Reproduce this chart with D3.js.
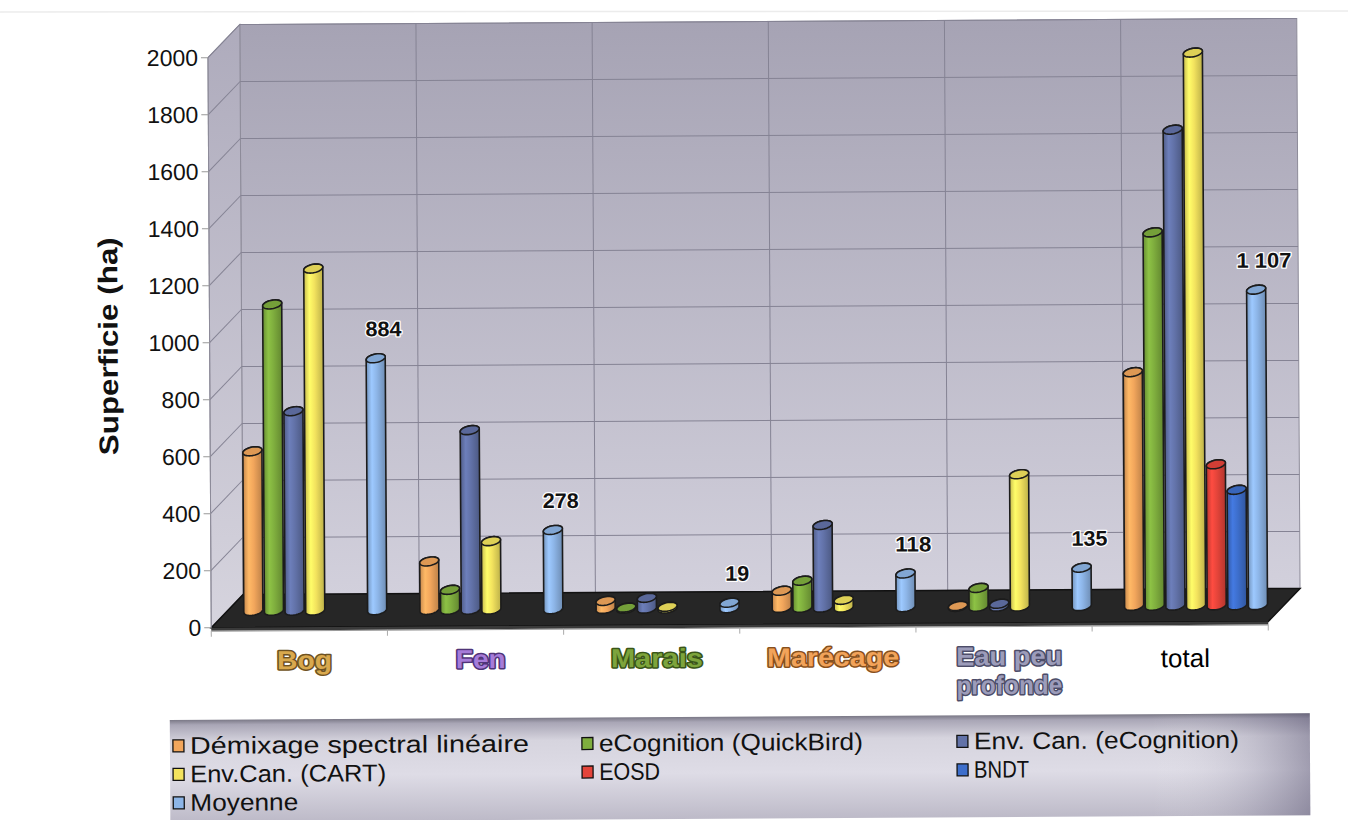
<!DOCTYPE html>
<html><head><meta charset="utf-8">
<script src="https://cdn.jsdelivr.net/npm/d3@7"></script>
<style>body{margin:0;background:#fff;} svg{display:block}</style>
</head><body><svg id="c" width="1348" height="820"></svg>
<script>
// ---------- data ----------
const categories = ["Bog","Fen","Marais","Marécage","Eau peu profonde","total"];
const categoryLines = [["Bog"],["Fen"],["Marais"],["Marécage"],["Eau peu","profonde"],["total"]];
const series = ["Démixage spectral linéaire","eCognition (QuickBird)","Env. Can. (eCognition)","Env.Can. (CART)","EOSD","BNDT","Moyenne"];
const demixage     = [560, 170, 28, 60, 3, 820];
const ecognitionQB = [1075, 70, 4, 95, 66, 1310];
const envCanECog   = [700, 630, 38, 290, 10, 1670];
const envCanCART   = [1200, 240, 6, 27, 464, 1940];
const eosd         = [null, null, null, null, null, 495];
const bndt         = [null, null, null, null, null, 405];
const moyenne      = [884, 278, 19, 118, 135, 1107];
const moyenneLabels = ["884","278","19","118","135","1 107"];
const yTicks = [0,200,400,600,800,1000,1200,1400,1600,1800,2000];
const seriesValues = [demixage, ecognitionQB, envCanECog, envCanCART, eosd, bndt, moyenne];
const seriesColors = ["#F2A65C","#7FAE3E","#6272A8","#F3E35E","#E4443A","#3D6ECB","#8DB5E7"];
const catColors = [["#D9A94E","#6e5222"],["#A67CD9","#4f3478"],["#7DA43C","#3a5518"],["#F2A35A","#86501e"],["#9C9CBA","#4c4c68"],["#000","none"]];

// ---------- layout ----------
const FX0 = 210, FX1 = 1267, FZ = 625, H = 570, DX = 32, DY = -33;
const W = FX1 - FX0;
const y = d3.scaleLinear().domain([0, 2000]).range([0, H]);
const x0 = d3.scaleBand().domain(categories).range([0, W]);
const bw = x0.bandwidth();
const x1 = d3.scaleBand().domain(series).range([bw * 0.09, bw * 0.91]);
const P = (px, v, t) => [FX0 + px + t * DX, FZ - y(v) + t * DY];

const svg = d3.select("#c");
const defs = svg.append("defs");

// wall gradients
const wg = defs.append("linearGradient").attr("id","wall").attr("x1",0).attr("y1",0).attr("x2",0).attr("y2",1);
wg.append("stop").attr("offset",0).attr("stop-color","#a6a3b4");
wg.append("stop").attr("offset",1).attr("stop-color","#d2d0dc");
const sg = defs.append("linearGradient").attr("id","side").attr("x1",0).attr("y1",0).attr("x2",0).attr("y2",1);
sg.append("stop").attr("offset",0).attr("stop-color","#aeabbc");
sg.append("stop").attr("offset",1).attr("stop-color","#d6d4de");
// legend gradient
const lg = defs.append("linearGradient").attr("id","leg").attr("x1",0).attr("y1",0).attr("x2",0).attr("y2",1);
[[0,"#7a7886"],[0.05,"#a9a6b6"],[0.22,"#d6d4de"],[0.55,"#dedce6"],[1,"#bdbac8"]].forEach(s=>lg.append("stop").attr("offset",s[0]).attr("stop-color",s[1]));
const lg2 = defs.append("linearGradient").attr("id","leg2").attr("x1",0).attr("y1",0).attr("x2",1).attr("y2",0);
[[0,"#ffffff",0],[0.86,"#ffffff",0],[0.95,"#6e6a86",0.2],[1,"#55506e",0.45]].forEach(s=>lg2.append("stop").attr("offset",s[0]).attr("stop-color",s[1]).attr("stop-opacity",s[2]));

// bar gradients
seriesColors.forEach((c,i)=>{
  const g = defs.append("linearGradient").attr("id","bar"+i).attr("x1",0).attr("y1",0).attr("x2",1).attr("y2",0);
  const col = d3.color(c);
  [[0,col.darker(0.55)],[0.28,col.brighter(0.3)],[0.55,col],[1,col.darker(0.7)]].forEach(s=>g.append("stop").attr("offset",s[0]).attr("stop-color",s[1].formatHex()));
});

// scan border line at top
svg.append("line").attr("x1",0).attr("x2",1348).attr("y1",12).attr("y2",11).attr("stroke","#ececec").attr("stroke-width",1.5);

const root = svg.append("g").attr("transform","rotate(-0.33,674,410)");
const poly = pts => "M" + pts.map(p=>p.join(",")).join("L") + "Z";

// walls
root.append("path").attr("d", poly([P(0,0,1),P(W,0,1),P(W,2000,1),P(0,2000,1)])).attr("fill","url(#wall)").attr("stroke","#8d8b99").attr("stroke-width",1);
root.append("path").attr("d", poly([P(0,0,0),P(0,0,1),P(0,2000,1),P(0,2000,0)])).attr("fill","url(#side)").attr("stroke","#8d8b99").attr("stroke-width",1);

// gridlines
const grid = root.append("g").attr("stroke","#858394").attr("stroke-width",1).attr("fill","none");
yTicks.filter(v=>v>0).forEach(v=>{
  grid.append("path").attr("d", "M"+P(0,v,1)+"L"+P(W,v,1));
  grid.append("path").attr("d", "M"+P(0,v,0)+"L"+P(0,v,1));
});
categories.forEach((c,i)=>{ if(i>0){ const px = x0(c); grid.append("path").attr("d","M"+P(px,0,1)+"L"+P(px,2000,1)); }});

// floor
root.append("path").attr("d", poly([P(0,0,0),P(W,0,0),P(W,0,1),P(0,0,1)])).attr("fill","#262626").attr("stroke","#111").attr("stroke-width",1.5);
root.append("path").attr("d", poly([P(0,0,0),P(W,0,0),[FX1,FZ+3],[FX0,FZ+3]])).attr("fill","#3a3a3a");
root.append("line").attr("x1",FX0).attr("x2",FX1).attr("y1",FZ+3.5).attr("y2",FZ+3.5).attr("stroke","#9a9a9a").attr("stroke-width",1);
// category ticks
categories.concat(["_end"]).forEach((c,i)=>{
  const px = i*bw;
  root.append("line").attr("x1",FX0+px).attr("x2",FX0+px).attr("y1",FZ+3).attr("y2",FZ+9).attr("stroke","#aaa");
});

// y axis
root.append("line").attr("x1",FX0).attr("x2",FX0).attr("y1",FZ).attr("y2",FZ-H).attr("stroke","#8d8b99");
const ya = root.append("g");
yTicks.forEach(v=>{
  const yy = FZ - y(v);
  ya.append("line").attr("x1",FX0-7).attr("x2",FX0).attr("y1",yy).attr("y2",yy).attr("stroke","#999");
  ya.append("text").attr("x",FX0-10).attr("y",yy+8).attr("text-anchor","end")
    .attr("font-family","Liberation Sans, Arial, sans-serif").attr("font-size",23).attr("fill","#111").text(v);
});
root.append("text").attr("transform","translate(118,343) rotate(-90)").attr("text-anchor","middle")
  .attr("font-family","Liberation Sans, Arial, sans-serif").attr("font-weight","bold").attr("font-size",27).attr("fill","#111")
  .attr("textLength",218).attr("lengthAdjust","spacingAndGlyphs")
  .text("Superficie (ha)");

// cylinders
const R = 9, DDX = 0.35, DDY = 0.5, TH0 = Math.atan(DDX);
const E = (c, th) => [c[0] + R*Math.cos(th) + R*DDX*Math.sin(th), c[1] - R*DDY*Math.sin(th)];
function arc(c, a, b, n){ const pts=[]; for(let k=0;k<=n;k++){ pts.push(E(c, a+(b-a)*k/n)); } return pts; }
const bars = root.append("g");
categories.forEach((cat,ci)=>{
  series.forEach((ser,si)=>{
    const v = seriesValues[si][ci];
    if(v===null || v===undefined) return;
    const px = x0(cat) + x1(ser) + x1.bandwidth()/2;
    const base = P(px, 0, 0.5), top = P(px, v, 0.5);
    const thL = TH0 + Math.PI, thR = TH0 + 2*Math.PI;
    const body = [E(top,thL)].concat(arc(base, thL, thR, 24)).concat(arc(top, TH0, TH0+Math.PI, 24));
    bars.append("path").attr("d", poly(body)).attr("fill","url(#bar"+si+")").attr("stroke","#1c1c1c").attr("stroke-width",1.6).attr("stroke-linejoin","round");
    const cap = arc(top, 0, 2*Math.PI, 40);
    const capCol = d3.color(seriesColors[si]).darker(0.25).formatHex();
    bars.append("path").attr("d", poly(cap)).attr("fill",capCol).attr("stroke","#1c1c1c").attr("stroke-width",1.6);
  });
});

// data labels (Moyenne)
const labelWidths = [36,36,24,36,36,55];
categories.forEach((cat,ci)=>{
  const px = x0(cat) + x1("Moyenne") + x1.bandwidth()/2;
  const top = P(px, moyenne[ci], 0.5);
  root.append("text").attr("x", top[0]+8).attr("y", top[1]-22).attr("text-anchor","middle")
    .attr("font-family","Liberation Sans, Arial, sans-serif").attr("font-weight","bold").attr("font-size",21)
    .attr("textLength",labelWidths[ci]).attr("lengthAdjust","spacingAndGlyphs")
    .attr("fill","#111").attr("stroke","#fff").attr("stroke-width",2.5).attr("paint-order","stroke").attr("stroke-linejoin","round")
    .text(moyenneLabels[ci]);
});

// category labels
const catWidths = [[55],[50],[92],[132],[106,106],[0]];
categories.forEach((cat,ci)=>{
  const cx = FX0 + x0(cat) + bw/2 + 5;
  categoryLines[ci].forEach((line,li)=>{
    const t = root.append("text").attr("x",cx).attr("y",667 + li*29).attr("text-anchor","middle")
      .attr("font-family","Liberation Sans, Arial, sans-serif");
    if(ci === 5){
      t.attr("font-size",26).attr("fill","#000").attr("y",670).text(line);
    } else {
      t.attr("font-size",26).attr("font-weight","bold").attr("fill",catColors[ci][0])
        .attr("stroke",catColors[ci][1]).attr("stroke-width",3).attr("paint-order","stroke").attr("stroke-linejoin","round")
        .attr("textLength",catWidths[ci][li]).attr("lengthAdjust","spacingAndGlyphs").text(line);
    }
  });
});

// legend
const leg = root.append("g");
leg.append("rect").attr("x",168).attr("y",717).attr("width",1140).attr("height",102).attr("fill","url(#leg)");
leg.append("rect").attr("x",168).attr("y",717).attr("width",1140).attr("height",102).attr("fill","url(#leg2)");
const legPos = [[171,0],[580,0],[955,0],[171,1],[580,1],[955,1],[171,2]];
const legWidths = [339,264,265,196,61,55,108];
series.forEach((s,i)=>{
  const [lx,row] = legPos[i];
  const ly = 737 + row*28.5;
  leg.append("rect").attr("x",lx).attr("y",ly).attr("width",11).attr("height",12).attr("fill",seriesColors[i]).attr("stroke","#111").attr("stroke-width",1.3);
  leg.append("text").attr("x",lx+17).attr("y",ly+14).attr("font-family","Liberation Sans, Arial, sans-serif").attr("font-size",24)
    .attr("fill","#111").attr("textLength",legWidths[i]).attr("lengthAdjust","spacingAndGlyphs").text(s);
});
</script></body></html>
